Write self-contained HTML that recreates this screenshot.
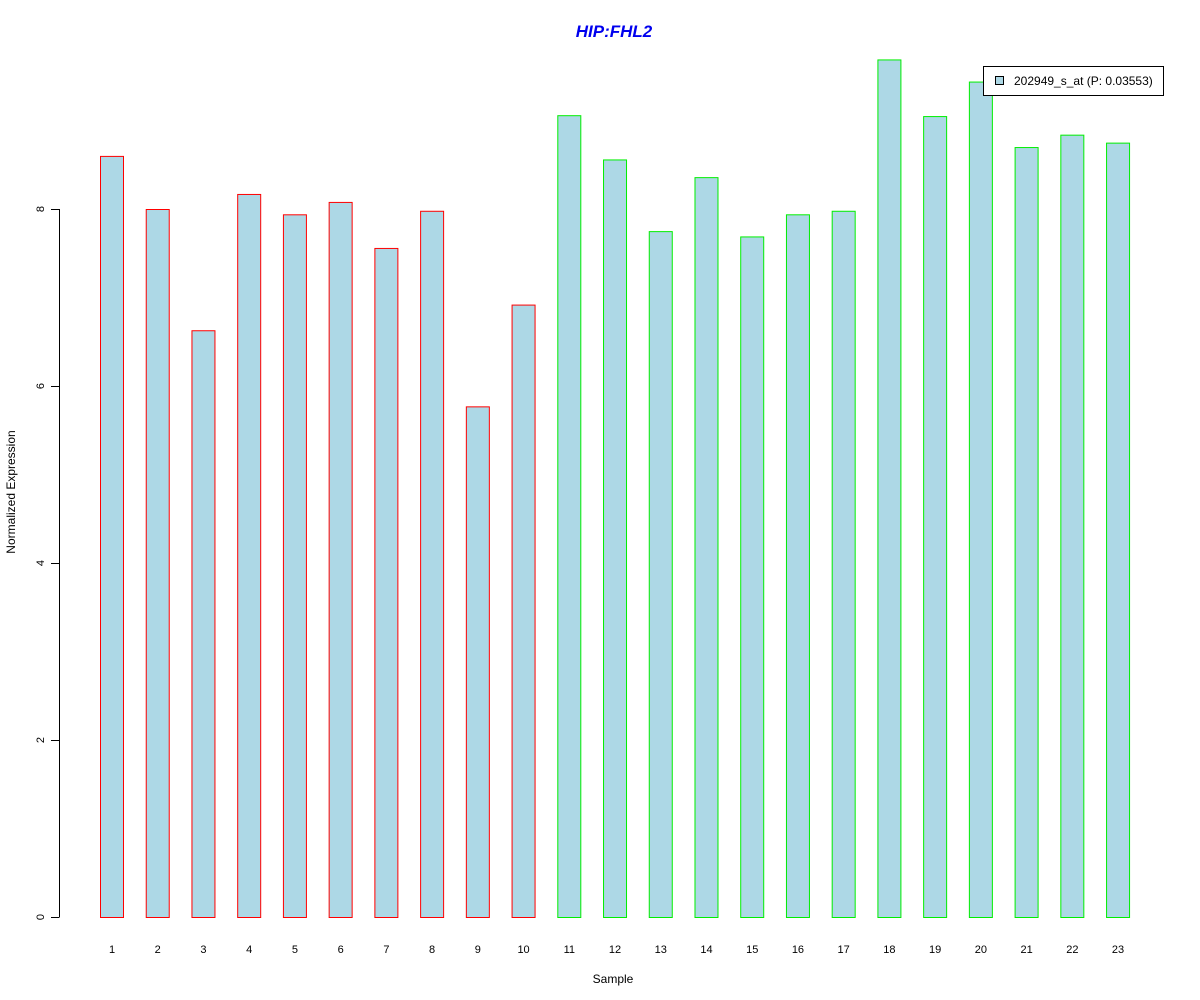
<!DOCTYPE html>
<html><head><meta charset="utf-8"><style>body{margin:0;background:#fff}svg{display:block}text{font-family:"Liberation Sans",Arial,sans-serif}</style></head>
<body>
<svg id="chart" width="1200" height="1000" xmlns="http://www.w3.org/2000/svg">
<rect width="1200" height="1000" fill="#fff"/>
<text x="614" y="37" text-anchor="middle" font-size="17" font-weight="bold" font-style="italic" fill="#0000ee">HIP:FHL2</text>
<g id="bars"></g>
<g id="yaxis"></g>
<g id="xlabels"></g>
<text x="613" y="983" text-anchor="middle" font-size="12">Sample</text>
<text transform="translate(15,492) rotate(-90)" text-anchor="middle" font-size="12">Normalized Expression</text>
<g>
<rect x="983.5" y="66.5" width="180" height="29" fill="#fff" stroke="#000"/>
<rect x="995.5" y="76.5" width="8" height="8" fill="#add8e6" stroke="#000"/>
<text x="1014" y="85" font-size="12">202949_s_at (P: 0.03553)</text>
</g>
</svg>
<script>
const categories=["1","2","3","4","5","6","7","8","9","10","11","12","13","14","15","16","17","18","19","20","21","22","23"];
const values=[8.60,8.00,6.63,8.17,7.94,8.08,7.56,7.98,5.77,6.92,9.06,8.56,7.75,8.36,7.69,7.94,7.98,9.69,9.05,9.44,8.70,8.84,8.75];
const groups=["a","a","a","a","a","a","a","a","a","a","b","b","b","b","b","b","b","b","b","b","b","b","b"];
const yTicks=[0,2,4,6,8];
const NS="http://www.w3.org/2000/svg";
const y=v=>917-v*88.5;
const x=i=>100+i*45.73;
const bw=23;
const bars=document.getElementById('bars'),ya=document.getElementById('yaxis'),xl=document.getElementById('xlabels');
function mk(t,a){const e=document.createElementNS(NS,t);for(const k in a)e.setAttribute(k,a[k]);return e;}
values.forEach((v,i)=>{
 const r=mk('rect',{x:x(i)+0.5,y:y(v)+0.5,width:bw,height:917-y(v),fill:'#add8e6',stroke:groups[i]==='a'?'#ff0000':'#00ee00'});
 
 
 bars.appendChild(r);
 const t=mk('text',{x:x(i)+bw/2+0.5,y:953,'text-anchor':'middle','font-size':11});
 t.textContent=categories[i];
 
 
 xl.appendChild(t);
});
ya.appendChild(mk('line',{x1:59.5,x2:59.5,y1:y(0),y2:y(8),stroke:'#000'}));
yTicks.forEach(v=>{
 ya.appendChild(mk('line',{x1:51,x2:59.5,y1:y(v)+0.5,y2:y(v)+0.5,stroke:'#000'}));
 const t=mk('text',{transform:`translate(44,${y(v)}) rotate(-90)`,'text-anchor':'middle','font-size':11});
 t.textContent=v;
 
 
 ya.appendChild(t);
});
</script>
</body></html>
